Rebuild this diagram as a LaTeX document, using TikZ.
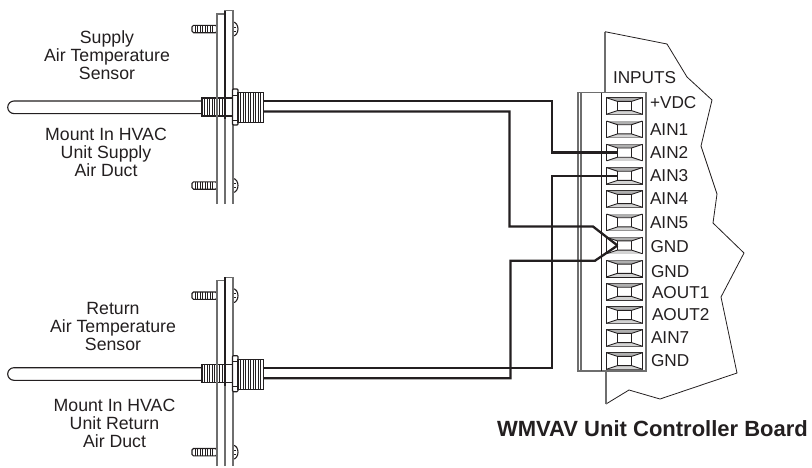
\documentclass[tikz,border=0pt]{standalone}
\usepackage{fontspec}
\setmainfont{Liberation Sans}
\definecolor{ink}{HTML}{231F20}
\definecolor{gry}{HTML}{6E6E6E}
\tikzset{
  every node/.style={text=ink,inner sep=0pt,outer sep=0pt},
  caption/.style={align=center,font=\fontsize{17.7}{18}\selectfont},
  pin/.style={anchor=base west,font=\fontsize{17.2}{18}\selectfont},
  wire/.style={draw=ink,line width=2.3pt,line join=miter},
  part/.style={draw=ink,line width=1.1pt,fill=white},
  thinpart/.style={draw=ink,line width=.9pt},
  grayline/.style={draw=gry,line width=1.3pt},
  termbox/.style={draw=ink,line width=1.1pt,minimum width=36pt,minimum height=16.5pt,fill=white},
}
% sensor drawn in place; #1 = name, #2 = vertical offset, #3 = bottom of plates (relative)
\newcommand{\sensorbody}[3]{%
\begin{scope}[yshift=-#2pt]
  % tube
  \draw[part] (201,101) -- (14,101) arc[start angle=90,end angle=270,radius=6.3pt] -- (201,113.6);
  % rear threads
  \draw[part] (202,98) rectangle (225,116);
  \foreach \x in {204.5,207,209.5,212,214.5,217,219.5,222}{\draw[thinpart] (\x,98) -- (\x,116);}
  % screws
  \foreach \yy in {29,185.5}{
    \draw[part,rounded corners=1.5pt] (192,\yy-3.7) rectangle (217,\yy+3.7);
    \foreach \x in {195,197.5,200,202.5,205,207.5,210,212.5}{\draw[thinpart] (\x,\yy-3.7) -- (\x,\yy+3.7);}
    \draw[part] (233,\yy-7) arc[start angle=90,end angle=-90,x radius=5pt,y radius=7pt];
    \draw[thinpart] (233,\yy-2) -- (236,\yy-2) (233,\yy+2) -- (236,\yy+2);
  }
  % plates
  \draw[grayline] (217,#3) -- (217,14) -- (225,14);
  \draw[grayline] (225,#3) -- (225,10.5) -- (233,10.5) -- (233,#3);
  \draw[draw=ink,line width=1.6pt] (225,10.5) -- (225,119);
  % shaft through plates
  \draw[part,fill=none] (225,98) -- (233,98) (225,116) -- (233,116);
  % nut
  \draw[part,rounded corners=1pt] (232.5,89) rectangle (238,125);
  \draw[thinpart] (232.5,95) -- (238,95) (232.5,120) -- (238,120);
  % front threads
  \draw[part] (238,92.7) rectangle (263.5,122.7);
  \foreach \x in {240.5,243,245.5,248,250.5,253,255.5,258,260.5}{\draw[thinpart] (\x,92.7) -- (\x,122.7);}
  \coordinate (#1a) at (263.5,101);
  \coordinate (#1b) at (263.5,111.5);
\end{scope}}
\newcommand{\terminal}[2]{%
  \node[termbox] (t#1) at (624.5,#2) {};
  \fill[gry!55] (t#1.north west) -- (617.5,#2-4.6) -- (631.5,#2-4.6) -- (t#1.north east) -- cycle;
  \fill[gry!30] (t#1.south west) -- (617.5,#2+4.6) -- (631.5,#2+4.6) -- (t#1.south east) -- cycle;
  \draw[thinpart] (t#1.north west) -- (617.5,#2-4.6) -- (631.5,#2-4.6) -- (t#1.north east)
     (t#1.south west) -- (617.5,#2+4.6) -- (631.5,#2+4.6) -- (t#1.south east)
     (617.5,#2-4.6) -- (617.5,#2+4.6) (631.5,#2-4.6) -- (631.5,#2+4.6);
}
\begin{document}
\begin{tikzpicture}[x=1pt,y=-1pt]
\useasboundingbox (0,0) rectangle (812,467);
% sensors
\sensorbody{top}{0}{204}
\sensorbody{bot}{266.7}{199.3}
% board
\draw[draw=gry,line width=1.1pt] (605,92.5) -- (605,31.7);
\draw[draw=ink,line width=.8pt] (605,31.7) -- (667,44) -- (687,77) -- (712,100) -- (701,146) -- (717,194) -- (713,223) -- (744,253) -- (721,297) -- (737,373) -- (660,399) -- (629,390) -- (606,404);
\draw[draw=gry,line width=1.1pt] (606,404) -- (606,371);
% connector block
\draw[grayline] (578,92.7) rectangle (646,371);
\draw[grayline] (581,92.7) -- (581,371);
\draw[draw=ink,line width=.9pt] (601,92.7) -- (601,371);
\terminal{1}{106}
\terminal{2}{129.3}
\terminal{3}{152.6}
\terminal{4}{175.8}
\terminal{5}{199}
\terminal{6}{222.3}
\terminal{7}{245.5}
\terminal{8}{268.7}
\terminal{9}{291.8}
\terminal{10}{315}
\terminal{11}{338}
\terminal{12}{361}
% wires
\draw[wire] (topa) -| (552,152.6) -- ([xshift=-6.5pt]t3.center);
\draw[wire] (topb) -| (509.5,226.5) -- (593,226.5) -- ([xshift=-7pt]t7.center);
\draw[wire] (bota) -| (552,175.8) -- ([xshift=-6.5pt]t4.center);
\draw[wire] (botb) -| (510.5,260.7) -- (595,260.7) -- ([xshift=-7pt]t7.center);
% labels
\node[pin] (l0) at (613,83) {INPUTS};
\node[pin] (l1) at (650,108) {+VDC};
\node[pin] (l2) at (650,135) {AIN1};
\node[pin] (l3) at (650,158) {AIN2};
\node[pin] (l4) at (650,181) {AIN3};
\node[pin] (l5) at (650,204) {AIN4};
\node[pin] (l6) at (650,228) {AIN5};
\node[pin] (l7) at (650.5,252) {GND};
\node[pin] (l8) at (651,277) {GND};
\node[pin] (l9) at (652,298) {AOUT1};
\node[pin] (l10) at (652,320) {AOUT2};
\node[pin] (l11) at (651,343) {AIN7};
\node[pin] (l12) at (651,366) {GND};
\node[caption] (c1) at (107,55) {Supply\\Air Temperature\\Sensor};
\node[caption] (c2) at (106,152.5) {Mount In HVAC\\Unit Supply\\Air Duct};
\node[caption] (c3) at (113,326) {Return\\Air Temperature\\Sensor};
\node[caption] (c4) at (114.5,423) {Mount In HVAC\\Unit Return\\Air Duct};
\node[font=\fontsize{22}{24}\selectfont\bfseries] (title) at (652.5,429) {WMVAV Unit Controller Board};
\end{tikzpicture}
\end{document}
